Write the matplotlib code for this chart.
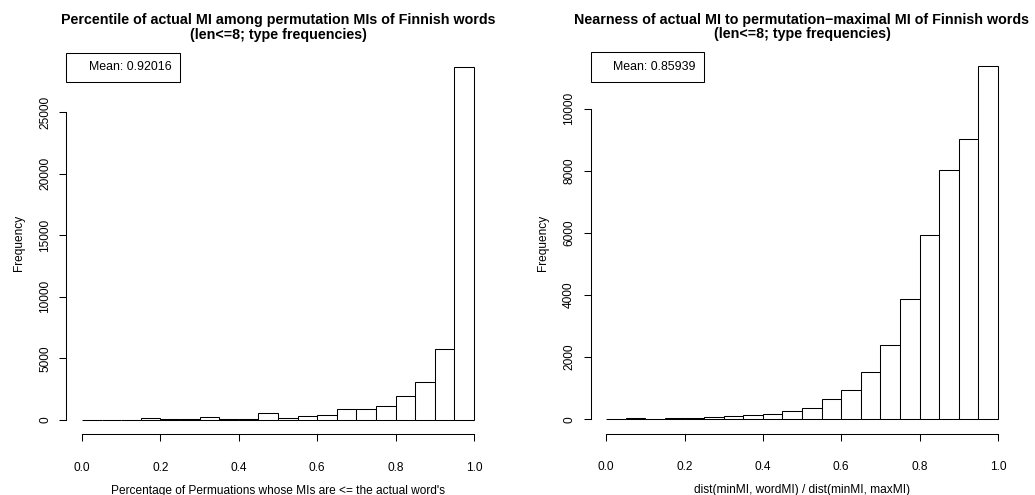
import matplotlib
matplotlib.use("Agg")
import matplotlib.pyplot as plt
import numpy as np

plt.rcParams['font.family'] = ['Liberation Sans', 'DejaVu Sans']
plt.rcParams['font.size'] = 8.6

# bin edges shared by both histograms (20 bins of 0.05)
bin_edges = np.linspace(0, 1, 21)

# left: percentile of actual MI among permutation MIs
pct_counts = [30, 20, 20, 135, 55, 60, 245, 80, 110, 570,
              190, 325, 405, 865, 920, 1135, 1950, 3085, 5765, 28700]
pct_mean = "Mean: 0.92016"
pct_title = "Percentile of actual MI among permutation MIs of Finnish words\n(len<=8; type frequencies)"
pct_xlabel = "Percentage of Permuations whose MIs are <= the actual word's"
pct_yticks = [0, 5000, 10000, 15000, 20000, 25000]

# right: nearness of actual MI to permutation-maximal MI
near_counts = [12, 35, 22, 40, 50, 65, 95, 130, 183, 270,
               365, 667, 946, 1538, 2398, 3880, 5940, 8040, 9030, 11360]
near_mean = "Mean: 0.85939"
near_title = "Nearness of actual MI to permutation\u2212maximal MI of Finnish words\n(len<=8; type frequencies)"
near_xlabel = "dist(minMI, wordMI) / dist(minMI, maxMI)"
near_yticks = [0, 2000, 4000, 6000, 8000, 10000]

xticks = [0.0, 0.2, 0.4, 0.6, 0.8, 1.0]

W, H = 1035, 495
fig = plt.figure(figsize=(W / 100, H / 100), dpi=100)


def r_hist(rect, counts, title, xlabel, yticks, mean_txt):
    ax = fig.add_axes([rect[0] / W, 1 - rect[3] / H, (rect[2] - rect[0]) / W, (rect[3] - rect[1]) / H])
    ax.bar(bin_edges[:-1], counts, width=np.diff(bin_edges), align='edge',
           facecolor='white', edgecolor='black', linewidth=0.75)
    ymax = max(counts)
    ax.set_xlim(-0.04, 1.04)
    ax.set_ylim(-0.04 * ymax, 1.04 * ymax)
    for s in ['top', 'right']:
        ax.spines[s].set_visible(False)
    ax.spines['bottom'].set_bounds(0, 1)
    ax.spines['left'].set_bounds(yticks[0], yticks[-1])
    for s in ['bottom', 'left']:
        ax.spines[s].set_linewidth(0.75)
    ax.set_xticks(xticks)
    ax.set_xticklabels([f"{t:.1f}" for t in xticks])
    ax.set_yticks(yticks)
    ax.set_yticklabels([str(t) for t in yticks], rotation=90, va='center')
    ax.tick_params(axis='both', direction='out', length=5, width=0.75)
    ax.tick_params(axis='x', pad=15)
    ax.tick_params(axis='y', pad=6)
    ax.set_xlabel(xlabel, labelpad=8)
    ax.set_ylabel("Frequency", labelpad=10)
    ax.set_title(title, fontsize=10.3, fontweight='bold', pad=10, linespacing=1.05)
    leg = ax.legend([plt.Line2D([], [], color='none')], [mean_txt], loc='upper left',
                    bbox_to_anchor=(0, 1), borderaxespad=0, fancybox=False,
                    edgecolor='black', framealpha=1, handlelength=0.9,
                    handletextpad=0.2, borderpad=0.7, fontsize=8.9)
    leg.get_frame().set_linewidth(0.75)
    return ax


r_hist((66.3, 52.7, 489.7, 434), pct_counts, pct_title, pct_xlabel, pct_yticks, pct_mean)
r_hist((590.5, 52.3, 1013.5, 433.5), near_counts, near_title, near_xlabel, near_yticks, near_mean)

fig.savefig("out.png", dpi=100)
